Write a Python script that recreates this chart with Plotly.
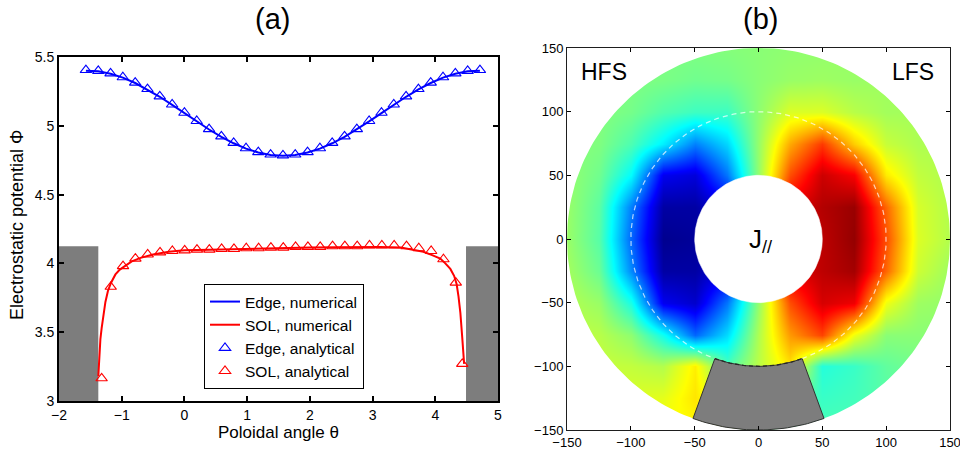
import numpy as np
import plotly.graph_objects as go

# ---------------- panel (a) data ----------------
edge_theta = [-1.571, -1.374, -1.178, -0.982, -0.785, -0.589, -0.393, -0.196, 0.0, 0.196, 0.393,
              0.589, 0.785, 0.982, 1.178, 1.374, 1.571, 1.767, 1.963, 2.160, 2.356, 2.553, 2.749,
              2.945, 3.142, 3.338, 3.534, 3.731, 3.927, 4.123, 4.320, 4.516, 4.712]
edge_analytic = [5.405, 5.399, 5.381, 5.353, 5.314, 5.267, 5.214, 5.155, 5.095, 5.035, 4.976,
                 4.923, 4.876, 4.837, 4.809, 4.791, 4.785, 4.791, 4.809, 4.837, 4.876, 4.923, 4.976,
                 5.035, 5.095, 5.155, 5.214, 5.267, 5.314, 5.353, 5.381, 5.399, 5.405]
edge_numeric = [5.400, 5.396, 5.378, 5.350, 5.311, 5.264, 5.211, 5.152, 5.092, 5.032, 4.973,
                4.920, 4.873, 4.834, 4.806, 4.788, 4.782, 4.788, 4.806, 4.834, 4.873, 4.920, 4.973,
                5.032, 5.092, 5.152, 5.211, 5.264, 5.311, 5.350, 5.378, 5.396, 5.400]

sol_num_theta = [-1.373, -1.36, -1.34, -1.32, -1.29, -1.26, -1.22, -1.17, -1.10, -1.03, -0.95,
                 -0.84, -0.70, -0.50, -0.25, 0.0, 0.4, 0.8, 1.2, 1.6, 2.0, 2.4, 2.8, 3.12, 3.45,
                 3.65, 3.81, 3.95, 4.08, 4.16, 4.24, 4.30, 4.34, 4.37, 4.40, 4.43, 4.46]
sol_numeric = [3.18, 3.33, 3.45, 3.53, 3.64, 3.72, 3.80, 3.86, 3.92, 3.955, 3.98,
               4.015, 4.04, 4.065, 4.085, 4.095, 4.10, 4.105, 4.11, 4.112, 4.115, 4.118, 4.12, 4.12, 4.115,
               4.10, 4.085, 4.06, 4.035, 4.00, 3.96, 3.91, 3.85, 3.76, 3.64, 3.46, 3.27]

sol_an_theta = [-1.32, -1.175, -0.979, -0.782, -0.586, -0.389, -0.193, 0.004, 0.200, 0.397, 0.593,
                0.790, 0.986, 1.183, 1.379, 1.576, 1.772, 1.969, 2.165, 2.362, 2.558, 2.755, 2.951,
                3.148, 3.344, 3.541, 3.737, 3.934, 4.130, 4.327, 4.43]
sol_analytic = [3.165, 3.83, 3.98, 4.035, 4.065, 4.08, 4.09, 4.095, 4.10, 4.10, 4.105,
                4.105, 4.11, 4.11, 4.115, 4.115, 4.12, 4.12, 4.12, 4.125, 4.125, 4.125, 4.13,
                4.13, 4.13, 4.125, 4.11, 4.09, 4.03, 3.86, 3.27]

limiter_theta = [-1.373, 4.49]     # inner edges of the two gray limiter blocks
limiter_top = 4.125

# ---------------- panel (b) data ----------------
grid_x = [-150, -125, -100, -75, -50, -25, 0, 25, 50, 75, 100, 125, 150]
grid_y = [-150, -125, -100, -75, -50, -25, 0, 25, 50, 75, 100, 125, 150]
J_par = [
    [0.14, 0.15, 0.18, 0.25, 0.25, 0.10, 0.00, -0.05, -0.10, -0.10, -0.08, -0.05, -0.03],
    [0.14, 0.15, 0.18, 0.20, 0.30, 0.15, 0.00, -0.05, -0.14, -0.12, -0.08, -0.05, -0.02],
    [0.13, 0.14, 0.13, 0.10, 0.28, -0.10, 0.12, 0.30, -0.18, -0.14, -0.06, -0.02, 0.00],
    [0.13, 0.11, 0.03, -0.22, -0.55, -0.32, 0.10, 0.45, 0.62, 0.22, 0.02, 0.02, 0.02],
    [0.10, 0.05, -0.20, -0.78, -0.85, -0.52, 0.05, 0.60, 0.83, 0.78, 0.22, 0.06, 0.04],
    [0.07, -0.04, -0.48, -0.93, -0.93, -0.80, 0.08, 0.80, 0.88, 0.93, 0.55, 0.15, 0.06],
    [0.05, -0.08, -0.55, -0.97, -0.95, -0.95, 0.00, 0.88, 0.88, 0.96, 0.60, 0.18, 0.10],
    [0.05, -0.07, -0.50, -0.93, -0.93, -0.80, 0.05, 0.80, 0.90, 0.95, 0.55, 0.17, 0.10],
    [0.04, -0.03, -0.25, -0.78, -0.82, -0.52, 0.05, 0.60, 0.85, 0.76, 0.29, 0.13, 0.09],
    [0.02, 0.00, -0.10, -0.28, -0.50, -0.33, 0.05, 0.42, 0.64, 0.35, 0.14, 0.09, 0.09],
    [0.015, 0.01, -0.02, -0.09, -0.13, -0.13, 0.03, 0.18, 0.18, 0.11, 0.07, 0.07, 0.08],
    [0.0, 0.0, 0.0, -0.01, -0.03, -0.02, 0.02, 0.05, 0.06, 0.05, 0.06, 0.06, 0.07],
    [0.0, 0.0, 0.0, 0.0, 0.0, 0.01, 0.02, 0.03, 0.035, 0.045, 0.05, 0.055, 0.06],
]
r_hole = 50
r_sep = 100
r_wall = 150
limiter_angles = [-110, -70]

FONT = "Liberation Sans"
BLUE = "rgb(0,0,255)"
RED = "rgb(255,0,0)"
GRAY = "rgb(125,125,125)"

jet = [[0.0, "rgb(0,0,128)"], [0.125, "rgb(0,0,255)"], [0.375, "rgb(0,255,255)"],
       [0.625, "rgb(255,255,0)"], [0.875, "rgb(255,0,0)"], [1.0, "rgb(128,0,0)"]]


def arc(r, a0, a1, n=120):
    t = np.deg2rad(np.linspace(a0, a1, n))
    return list(r * np.cos(t)), list(r * np.sin(t))


fig = go.Figure()

# ---- panel (a) traces ----
fig.add_trace(go.Scatter(x=edge_theta, y=edge_numeric, mode="lines", name="Edge, numerical",
                         line=dict(color=BLUE, width=2), xaxis="x", yaxis="y"))
fig.add_trace(go.Scatter(x=sol_num_theta, y=sol_numeric, mode="lines", name="SOL, numerical",
                         line=dict(color=RED, width=2), xaxis="x", yaxis="y"))
fig.add_trace(go.Scatter(x=edge_theta, y=edge_analytic, mode="markers", name="Edge, analytical",
                         marker=dict(symbol="triangle-up-open", size=10, color=BLUE,
                                     line=dict(width=1.1, color=BLUE)), xaxis="x", yaxis="y"))
fig.add_trace(go.Scatter(x=sol_an_theta, y=sol_analytic, mode="markers", name="SOL, analytical",
                         marker=dict(symbol="triangle-up-open", size=10, color=RED,
                                     line=dict(width=1.1, color=RED)), xaxis="x", yaxis="y"))

# ---- panel (b) traces ----
fig.add_trace(go.Heatmap(x=grid_x, y=grid_y, z=J_par, colorscale=jet, zmin=-1, zmax=1,
                         zsmooth="best", showscale=False, hoverinfo="skip",
                         xaxis="x2", yaxis="y2"))

# white mask outside the wall radius (four corner pieces)
mx, my = [], []
B = r_wall + 5
for a0, cx, cy in [(0, 1, 1), (90, -1, 1), (180, -1, -1), (270, 1, -1)]:
    ax_, ay_ = arc(r_wall, a0, a0 + 90, 60)
    px = ax_ + [0 if a0 in (0, 180) else cx * B, cx * B, cx * B if a0 in (0, 180) else 0]
    py = ay_ + [cy * B if a0 in (0, 180) else 0, cy * B, 0 if a0 in (0, 180) else cy * B]
    mx += px + [px[0], None]
    my += py + [py[0], None]
fig.add_trace(go.Scatter(x=mx, y=my, mode="lines", fill="toself", fillcolor="white",
                         line=dict(width=0, color="white"), showlegend=False, hoverinfo="skip",
                         xaxis="x2", yaxis="y2"))

# inner hole
hx, hy = arc(r_hole, 0, 360, 181)
fig.add_trace(go.Scatter(x=hx, y=hy, mode="lines", fill="toself", fillcolor="white",
                         line=dict(width=0.5, color="white"), showlegend=False, hoverinfo="skip",
                         xaxis="x2", yaxis="y2"))

# separatrix (white dashed)
sx, sy = arc(r_sep, limiter_angles[1], 360 + limiter_angles[0], 300)
fig.add_trace(go.Scatter(x=sx, y=sy, mode="lines",
                         line=dict(width=1.2, color="rgba(255,255,255,0.7)", dash="5px,4px"),
                         showlegend=False, hoverinfo="skip", xaxis="x2", yaxis="y2"))

# limiter
lx1, ly1 = arc(r_sep, limiter_angles[0], limiter_angles[1], 40)
lx2, ly2 = arc(r_wall, limiter_angles[1], limiter_angles[0], 40)
fig.add_trace(go.Scatter(x=lx1 + lx2 + [lx1[0]], y=ly1 + ly2 + [ly1[0]], mode="lines",
                         fill="toself", fillcolor=GRAY, line=dict(width=1, color="rgb(50,50,50)"),
                         showlegend=False, hoverinfo="skip", xaxis="x2", yaxis="y2"))
fig.add_trace(go.Scatter(x=lx1, y=ly1, mode="lines",
                         line=dict(width=1.3, color="rgb(40,40,40)", dash="4px,3px"),
                         showlegend=False, hoverinfo="skip", xaxis="x2", yaxis="y2"))

# ---- shapes: gray limiter blocks in (a) ----
shapes = [
    dict(type="rect", xref="x", yref="y", x0=-2, x1=limiter_theta[0], y0=3, y1=limiter_top,
         fillcolor=GRAY, line=dict(width=0), layer="below"),
    dict(type="rect", xref="x", yref="y", x0=limiter_theta[1], x1=5, y0=3, y1=limiter_top,
         fillcolor=GRAY, line=dict(width=0), layer="below"),
]

W, H = 960, 452


def fx(p):
    return p / W


def fy(p):
    return 1 - p / H


annotations = [
    dict(text="(a)", x=fx(272), y=fy(19), xref="paper", yref="paper", showarrow=False,
         font=dict(size=29, family=FONT, color="black"), xanchor="center", yanchor="middle"),
    dict(text="(b)", x=fx(760), y=fy(19), xref="paper", yref="paper", showarrow=False,
         font=dict(size=29, family=FONT, color="black"), xanchor="center", yanchor="middle"),
    dict(text="Poloidal angle \u03b8", x=fx(278), y=fy(432), xref="paper", yref="paper",
         showarrow=False, font=dict(size=17, family=FONT, color="black"),
         xanchor="center", yanchor="middle"),
    dict(text="Electrostatic potential \u03a6", x=fx(17), y=fy(225), xref="paper", yref="paper",
         showarrow=False, textangle=-90, font=dict(size=18, family=FONT, color="black"),
         xanchor="center", yanchor="middle"),
    dict(text="HFS", x=-121, y=131, xref="x2", yref="y2", showarrow=False,
         font=dict(size=23, family=FONT, color="black")),
    dict(text="LFS", x=121, y=131, xref="x2", yref="y2", showarrow=False,
         font=dict(size=23, family=FONT, color="black")),
    dict(text="J<sub>//</sub>", x=2, y=-1, xref="x2", yref="y2", showarrow=False,
         font=dict(size=26, family=FONT, color="black")),
]

common_ax = dict(showgrid=False, zeroline=False, showline=True, mirror="ticks", ticks="inside",
                 color="black", automargin=False, ticklabeloverflow="allow")

fig.update_layout(
    width=W, height=H, margin=dict(l=0, r=0, t=0, b=0, pad=0), autosize=False,
    paper_bgcolor="white", plot_bgcolor="white",
    font=dict(family=FONT, color="black"),
    shapes=shapes, annotations=annotations,
    xaxis=dict(domain=[fx(59), fx(498)], range=[-2, 5], dtick=1, tick0=0, anchor="y",
               linewidth=2, linecolor="black", ticklen=5, tickwidth=2,
               tickfont=dict(size=14, family=FONT), **common_ax),
    yaxis=dict(domain=[fy(401), fy(57)], range=[3, 5.5], dtick=0.5, tick0=3, anchor="x",
               linewidth=2, linecolor="black", ticklen=5, tickwidth=2,
               tickfont=dict(size=14, family=FONT), **common_ax),
    xaxis2=dict(domain=[fx(567), fx(950)], range=[-150, 150], dtick=50, tick0=0, anchor="y2",
                linewidth=1, linecolor="rgb(30,30,30)", ticklen=4, tickwidth=1,
                tickfont=dict(size=13, family=FONT), **common_ax),
    yaxis2=dict(domain=[fy(430), fy(48)], range=[-150, 150], dtick=50, tick0=0,
                anchor="x2", linewidth=1, linecolor="rgb(30,30,30)", ticklen=4, tickwidth=1,
                tickfont=dict(size=13, family=FONT), **common_ax),
    legend=dict(x=fx(204), y=fy(284), xanchor="left", yanchor="top",
                bordercolor="black", borderwidth=1, bgcolor="white",
                font=dict(size=15.5, family=FONT, color="black"), tracegroupgap=0),
    showlegend=True,
)

# remove the browser's default 8px page margin so the figure fills the window exactly
fig.write_html("out.html", post_script="document.body.style.margin='0px';",
               config={"displayModeBar": False})
